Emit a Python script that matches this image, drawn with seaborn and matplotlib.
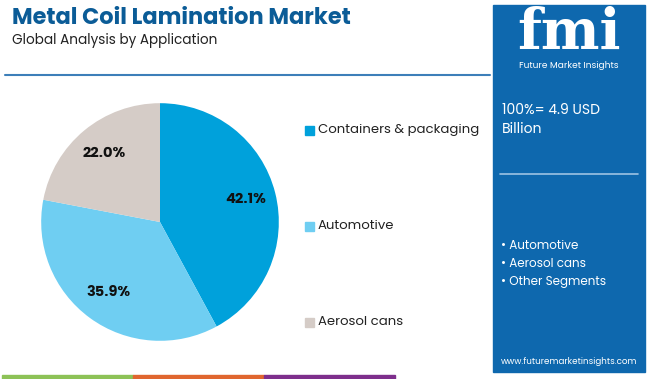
import matplotlib
matplotlib.use("Agg")
import matplotlib.pyplot as plt
import seaborn as sns
from matplotlib.patches import Rectangle

# data
segments = ["Containers & packaging", "Automotive", "Aerosol cans"]
shares = [42.1, 35.9, 22.0]
colors = ["#00A1DB", "#6FCEF2", "#D5CCC7"]
other_segments = ["Automotive", "Aerosol cans", "Other Segments"]

sns.set_theme(style="white")
plt.rcParams["font.family"] = ["Poppins", "Open Sans", "DejaVu Sans"]

W, H = 650, 379
fig = plt.figure(figsize=(W / 100, H / 100), dpi=100)
fig.patch.set_facecolor("white")

def fx(x):
    return x / W

def fy(y):
    return 1 - y / H

# title block
fig.text(fx(12), fy(19), "Metal Coil Lamination Market", fontsize=16.2, fontweight="bold",
         color="#0B5C97", va="center", ha="left")
fig.text(fx(12), fy(41), "Global Analysis by Application", fontsize=9.8,
         color="#222222", va="center", ha="left")
fig.add_artist(plt.Line2D([fx(5), fx(490)], [fy(75), fy(75)], color="#3D7FB9", lw=1.5))

# pie
ax = fig.add_axes([fx(40), fy(342), fx(240), 240 / H])
wedges, texts, autotexts = ax.pie(
    shares, colors=colors, startangle=90, counterclock=False,
    autopct="%.1f%%", pctdistance=0.74,
    textprops=dict(fontsize=10.5, fontweight="bold", color="#111111"),
    wedgeprops=dict(linewidth=0))
ax.set_xlim(-1.01, 1.01)
ax.set_ylim(-1.01, 1.01)
ax.set_aspect("equal")

# legend
for i, (name, c) in enumerate(zip(segments, colors)):
    y = 130 + i * 96
    fig.add_artist(Rectangle((fx(305), fy(y + 4.5)), fx(9), 9 / H, color=c))
    fig.text(fx(318), fy(y), name, fontsize=9.5, color="#222222", va="center", ha="left")

# right panel
fig.add_artist(Rectangle((fx(493), fy(372)), fx(152), 367 / H, color="#0E68AE", zorder=0))
fig.text(fx(569), fy(33), "fmi", fontsize=40, fontweight="bold", color="white",
         va="center", ha="center", family=["DejaVu Serif"])
fig.text(fx(569), fy(65), "Future Market Insights", fontsize=6.5, color="white",
         va="center", ha="center")
fig.text(fx(502), fy(110), "100%= 4.9 USD", fontsize=10, color="white", va="center", ha="left")
fig.text(fx(502), fy(130), "Billion", fontsize=10, color="white", va="center", ha="left")
fig.add_artist(plt.Line2D([fx(500), fx(638)], [fy(174), fy(174)], color="#9CC3E3", lw=1.2))
for i, name in enumerate(other_segments):
    fig.text(fx(501), fy(246 + i * 18), "\u2022 " + name, fontsize=8.6, color="white",
             va="center", ha="left")
fig.text(fx(569), fy(362), "www.futuremarketinsights.com", fontsize=6.3, color="white",
         va="center", ha="center")

# bottom strip
for i, c in enumerate(["#8DC257", "#E0662F", "#7E2F8C"]):
    fig.add_artist(Rectangle((fx(2 + i * 131), 0), fx(131), 4 / H, color=c))

fig.savefig("out.png", dpi=100, facecolor="white")
